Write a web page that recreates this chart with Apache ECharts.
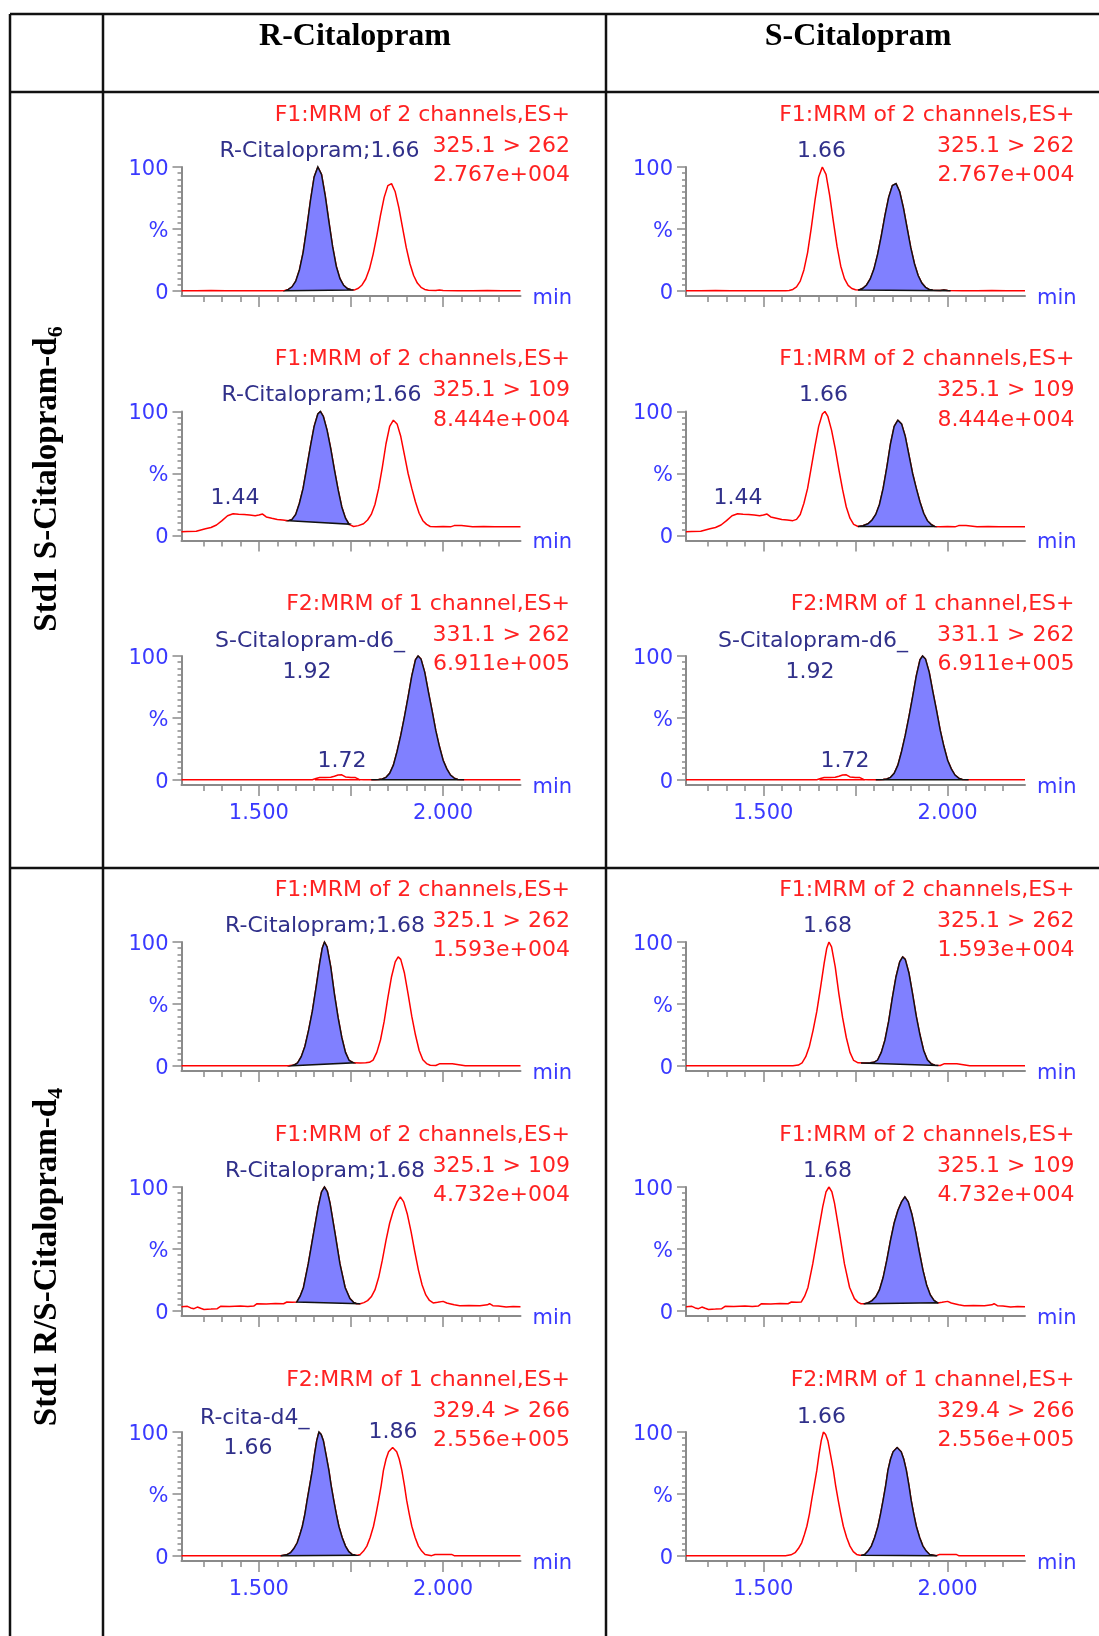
<!DOCTYPE html>
<html>
<head>
<meta charset="utf-8">
<title>R/S-Citalopram MRM chromatograms</title>
<script src="https://cdn.jsdelivr.net/npm/echarts@6/dist/echarts.min.js"></script>
<style>
html, body { margin: 0; padding: 0; background: #fff; }
#chart { width: 1099px; height: 1636px; }
</style>
</head>
<body>
<div id="chart"></div>
<script>
// retention time (min), relative intensity (%)
var trace1 = [[1.29,0.3],[1.33,0.2],[1.37,0.4],[1.41,0.2],[1.45,0.3],[1.49,0.2],[1.53,0.3],[1.56,0.3],[1.57,0.5],
  [1.58,1.3],[1.59,3.4],[1.60,8],[1.61,17],[1.62,31],[1.63,51],[1.64,73],[1.65,92],[1.66,100],[1.67,94],[1.68,77],
  [1.69,56],[1.70,36],[1.71,20],[1.72,10],[1.73,4.6],[1.74,2],[1.75,1],[1.76,0.9],[1.77,2.2],[1.78,4.9],[1.79,9.7],
  [1.80,17.7],[1.81,29.6],[1.82,44.4],[1.83,61],[1.84,75.5],[1.85,85],[1.86,86.6],[1.87,80],[1.88,67],[1.89,51],
  [1.90,35],[1.91,22],[1.92,12.5],[1.93,6.4],[1.94,3],[1.95,1.3],[1.96,0.6],[1.98,0.4],[1.99,0.8],[2.00,0.4],
  [2.04,0.3],[2.08,0.2],[2.12,0.4],[2.16,0.3],[2.21,0.3]];
var trace2 = [[1.29,3],[1.305,3.3],[1.33,3.5],[1.355,5.5],[1.37,6.5],[1.385,8.5],[1.40,12],[1.415,16],[1.43,17.5],
  [1.445,17.2],[1.46,17],[1.475,16.5],[1.49,16],[1.50,16.5],[1.51,17.3],[1.52,15],[1.535,14],[1.55,13],[1.565,12.5],
  [1.58,12],[1.59,13],[1.60,17],[1.61,26],[1.62,38],[1.63,55],[1.64,72],[1.65,88],[1.66,98],[1.667,100],[1.675,96],
  [1.685,85],[1.695,70],[1.705,53],[1.715,37],[1.725,23],[1.735,14],[1.745,9],[1.757,7.3],[1.77,8],[1.784,9.5],
  [1.795,12.5],[1.805,17],[1.815,25],[1.825,38],[1.835,55],[1.845,74],[1.855,88],[1.865,93],[1.875,90],[1.885,80],
  [1.895,65],[1.905,50],[1.915,38],[1.925,27],[1.935,18],[1.945,12],[1.955,9],[1.965,7.3],[1.98,7],[2.00,7.2],
  [2.02,7],[2.03,8],[2.05,8],[2.055,7],[2.08,7],[2.11,7.2],[2.14,7],[2.17,7],[2.21,7]];
var trace3 = [[1.29,0.2],[1.35,0.3],[1.40,0.2],[1.45,0.3],[1.50,0.2],[1.55,0.3],[1.60,0.2],[1.645,0.3],[1.655,1.2],
  [1.665,2],[1.68,2],[1.695,2.2],[1.705,3],[1.715,4],[1.725,4.2],[1.735,2.5],[1.75,2],[1.762,2],[1.772,0.5],
  [1.785,0.3],[1.80,0.2],[1.815,0.3],[1.825,0.4],[1.835,0.8],[1.845,2.2],[1.855,5.4],[1.865,12],[1.875,23],
  [1.885,36],[1.895,51],[1.905,67],[1.915,84],[1.925,97],[1.932,100],[1.94,97.5],[1.95,87],[1.96,71],[1.97,56],
  [1.98,40],[1.99,27],[2.00,16],[2.01,9],[2.02,4],[2.03,1.5],[2.04,0.5],[2.06,0.3],[2.10,0.2],[2.15,0.3],[2.21,0.2]];
var trace4 = [[1.29,0.3],[1.34,0.2],[1.39,0.3],[1.44,0.2],[1.49,0.3],[1.54,0.2],[1.58,0.3],[1.595,0.8],[1.605,2.5],
  [1.615,7.5],[1.625,16],[1.635,29],[1.645,44],[1.655,63],[1.665,83],[1.672,95],[1.678,100],[1.685,96],[1.695,80],
  [1.705,58],[1.715,39],[1.725,23],[1.735,11],[1.745,4.5],[1.757,2.6],[1.775,2.4],[1.79,2.6],[1.80,3],[1.81,4.8],
  [1.82,11],[1.83,21],[1.84,36],[1.85,55],[1.86,72],[1.87,84],[1.878,88],[1.885,86],[1.895,75],[1.905,58],
  [1.915,40],[1.925,25],[1.935,12.5],[1.945,5],[1.955,2],[1.965,0.6],[1.98,0.4],[1.99,1.8],[2.025,1.9],[2.03,0.5],
  [2.06,0.3],[2.10,0.2],[2.15,0.3],[2.21,0.3]];
var trace5 = [[1.29,3.5],[1.306,3.8],[1.315,2.5],[1.324,1.9],[1.333,3.2],[1.342,2.2],[1.351,1.3],[1.37,1.6],
  [1.387,1.9],[1.396,3.8],[1.42,3.6],[1.45,4],[1.47,3.7],[1.486,4],[1.495,5.9],[1.52,5.6],[1.545,6],[1.567,5.9],
  [1.576,7.3],[1.59,7],[1.603,7.3],[1.612,12],[1.621,19],[1.634,38],[1.648,62],[1.661,84],[1.67,96],[1.678,100],
  [1.686,96],[1.693,87],[1.707,62],[1.72,38],[1.734,19],[1.747,10],[1.757,7],[1.765,5.9],[1.775,5.9],[1.785,6.8],
  [1.795,8.4],[1.805,11.5],[1.815,17],[1.825,27],[1.835,41],[1.845,57],[1.855,71],[1.865,81],[1.875,88],
  [1.884,92],[1.893,88],[1.903,78],[1.913,64],[1.923,48],[1.933,33],[1.943,21],[1.953,13],[1.963,8.5],
  [1.973,6.5],[1.985,7],[2.00,7.8],[2.01,6.5],[2.018,5.9],[2.03,5],[2.045,4.3],[2.07,4.5],[2.10,4.2],
  [2.12,5],[2.126,5.9],[2.135,4.3],[2.15,4],[2.171,3.2],[2.19,3.6],[2.21,3.5]];
var trace6 = [[1.29,0.3],[1.34,0.2],[1.39,0.3],[1.44,0.2],[1.49,0.3],[1.54,0.2],[1.56,0.3],[1.575,1],[1.586,2.7],
  [1.595,6],[1.604,10.7],[1.611,17],[1.618,24],[1.625,34],[1.631,45],[1.638,57],[1.645,69],[1.651,82],[1.657,93],
  [1.663,100],[1.669,98],[1.675,93],[1.682,82],[1.69,69],[1.696,57],[1.703,45],[1.71,34],[1.717,24],[1.726,15],
  [1.735,8],[1.744,3.5],[1.753,1.3],[1.762,0.6],[1.768,0.6],[1.775,1.3],[1.784,4],[1.793,8],[1.802,15],[1.811,24],
  [1.818,34],[1.825,45],[1.832,57],[1.838,69],[1.845,78],[1.852,84],[1.863,87.5],[1.874,84],[1.881,78],[1.888,69],
  [1.895,57],[1.901,45],[1.908,34],[1.915,24],[1.924,15],[1.933,8],[1.942,4],[1.951,1.3],[1.969,0.3],[1.978,1.3],
  [2.023,1.3],[2.03,0.3],[2.08,0.2],[2.13,0.3],[2.21,0.2]];
// baseline drawn under the small 1.72 peak (S-Citalopram-d6 channel)
var bumpBase = [[1.652,0.3],[1.775,0.3]];

// integrated peaks: [start time, start baseline, end time, end baseline]
var shadeRCol = [[1.573,0.3,1.757,0.8],[1.581,12,1.746,9.2],[1.805,0.2,2.057,0.3],
  [1.59,0.3,1.757,2.6],[1.603,7.3,1.775,5.9],[1.559,0.3,1.762,0.6]];
var shadeSCol = [[1.757,0.8,2.008,0.3],[1.757,7.3,1.965,7.3],[1.805,0.2,2.057,0.3],
  [1.765,2.5,1.975,0.4],[1.772,5.9,1.975,6.6],[1.765,0.6,1.972,0.3]];

var channelText = ['F1:MRM of 2 channels,ES+','F1:MRM of 2 channels,ES+','F2:MRM of 1 channel,ES+',
  'F1:MRM of 2 channels,ES+','F1:MRM of 2 channels,ES+','F2:MRM of 1 channel,ES+'];
var transitionText = ['325.1 > 262','325.1 > 109','331.1 > 262','325.1 > 262','325.1 > 109','329.4 > 266'];
var intensityText = ['2.767e+004','8.444e+004','6.911e+005','1.593e+004','4.732e+004','2.556e+005'];
var peakTextR = [['R-Citalopram;1.66'],['R-Citalopram;1.66','1.44'],['S-Citalopram-d6_','1.92','1.72'],
  ['R-Citalopram;1.68'],['R-Citalopram;1.68'],['R-cita-d4_','1.66','1.86']];
var peakTextS = [['1.66'],['1.66','1.44'],['S-Citalopram-d6_','1.92','1.72'],['1.68'],['1.68'],['1.66']];
var colTitles = ['R-Citalopram','S-Citalopram'];
var rowTitles = [['Std1 S-Citalopram-d','6'],['Std1 R/S-Citalopram-d','4']];

var xTicks = [1.35,1.40,1.45,1.50,1.55,1.60,1.65,1.70,1.75,1.80,1.85,1.90,1.95,2.00,2.05,2.10,2.15];
var xMajorTicks = [1.50,1.75,2.00];
var xLabelValues = [1.50,2.00];
var yTicks = [0,5,10,15,20,25,30,35,40,45,50,55,60,65,70,75,80,85,90,95,100];
var yMajorTicks = [0,50,100];

var traces = [trace1, trace2, trace3, trace4, trace5, trace6];

// layout
var rowTop = [167, 411.5, 656, 942, 1187, 1432];
var colLeft = [181.5, 686];
var peakPosR = [[[138,-16,'center']],[[140,-16,'center'],[53.5,87,'center']],
  [[33.5,-15,'left'],[125.5,16,'center'],[160.5,105,'center']],[[143.5,-16,'center']],[[143.5,-16,'center']],
  [[18.5,-14,'left'],[66.5,16,'center'],[211.5,0,'center']]];
var peakPosS = [[[135.5,-16,'center']],[[137.5,-16,'center'],[52,87,'center']],
  [[32,-15,'left'],[124,16,'center'],[159,105,'center']],[[141.5,-16,'center']],[[141.5,-16,'center']],
  [[135.5,-15,'center']]];

var SANS = '"DejaVu Sans", Verdana, sans-serif';
var SERIF = '"Liberation Serif", "Times New Roman", serif';
var RED = '#ff2222', BLUE = '#3a3aff', NAVY = '#30308a', GREY = '#8a8a8a';

var chart = echarts.init(document.getElementById('chart'), null, { renderer: 'canvas' });
var grids = [], xAxes = [], yAxes = [], series = [], graphics = [];

function shadeSeries(p, trace, shade) {
  return {
    type: 'custom', xAxisIndex: 2 * p, yAxisIndex: 2 * p, z: 3, silent: true,
    data: [shade],
    renderItem: function (params, api) {
      var t0 = api.value(0), b0 = api.value(1), t1 = api.value(2), b1 = api.value(3);
      var pts = [api.coord([t0, b0])];
      trace.forEach(function (d) {
        if (d[0] > t0 && d[0] < t1) pts.push(api.coord(d));
      });
      pts.push(api.coord([t1, b1]));
      return {
        type: 'polygon', shape: { points: pts },
        style: { fill: '#8080ff', stroke: '#111', lineWidth: 1.5 }
      };
    }
  };
}

function addText(x, y, text, color, align) {
  graphics.push({
    type: 'text', x: x, y: y, silent: true,
    style: { text: text, fill: color, fontSize: 22, fontFamily: SANS, align: align, verticalAlign: 'middle' }
  });
}

for (var r = 0; r < 6; r++) {
  for (var c = 0; c < 2; c++) {
    var p = r * 2 + c;
    var gx = colLeft[c], gy = rowTop[r];
    var bottomRow = (r === 2 || r === 5);
    grids.push({ left: gx, top: gy, width: 339, height: 129 });
    xAxes.push({
      type: 'value', gridIndex: p, min: 1.29, max: 2.21, position: 'bottom',
      name: 'min', nameLocation: 'end', nameGap: 12,
      nameTextStyle: { color: BLUE, fontSize: 21, fontFamily: SANS, verticalAlign: 'top', lineHeight: 5 },
      axisLine: { onZero: false, lineStyle: { color: GREY, width: 2 } },
      axisTick: { customValues: xTicks, length: 6, lineStyle: { color: GREY, width: 1.5 } },
      axisLabel: {
        show: bottomRow, customValues: xLabelValues, margin: 18, color: BLUE, fontSize: 21, fontFamily: SANS,
        formatter: function (v) { return v.toFixed(3); }
      },
      splitLine: { show: false }
    });
    xAxes.push({
      type: 'value', gridIndex: p, min: 1.29, max: 2.21, position: 'bottom',
      axisLine: { show: false, onZero: false },
      axisTick: { customValues: xMajorTicks, length: 11, lineStyle: { color: GREY, width: 1.5 } },
      axisLabel: { show: false }, splitLine: { show: false }
    });
    yAxes.push({
      type: 'value', gridIndex: p, min: -4, max: 100, position: 'left',
      axisLine: { onZero: false, lineStyle: { color: GREY, width: 2 } },
      axisTick: { customValues: yTicks, length: 4, lineStyle: { color: GREY, width: 1.5 } },
      axisLabel: {
        customValues: yMajorTicks, margin: 13, color: BLUE, fontSize: 21, fontFamily: SANS,
        verticalAlign: 'top', lineHeight: 5,
        formatter: function (v) { return v === 50 ? '%' : String(v); }
      },
      splitLine: { show: false }
    });
    yAxes.push({
      type: 'value', gridIndex: p, min: -4, max: 100, position: 'left',
      axisLine: { show: false, onZero: false },
      axisTick: { customValues: yMajorTicks, length: 9, lineStyle: { color: GREY, width: 1.5 } },
      axisLabel: { show: false }, splitLine: { show: false }
    });

    series.push({
      type: 'line', xAxisIndex: 2 * p, yAxisIndex: 2 * p, data: traces[r], symbol: 'none',
      lineStyle: { color: '#ff0000', width: 1.5 }, z: 2, silent: true
    });
    if (r === 2) {
      series.push({
        type: 'line', xAxisIndex: 2 * p, yAxisIndex: 2 * p, data: bumpBase, symbol: 'none',
        lineStyle: { color: '#ff0000', width: 1.5 }, z: 2, silent: true
      });
    }
    series.push(shadeSeries(p, traces[r], c === 0 ? shadeRCol[r] : shadeSCol[r]));

    // channel description, right aligned
    var tx = gx + 388.5;
    addText(tx, gy - 52, channelText[r], RED, 'right');
    addText(tx, gy - 21, transitionText[r], RED, 'right');
    addText(tx, gy + 8.5, intensityText[r], RED, 'right');

    var labels = c === 0 ? peakTextR[r] : peakTextS[r];
    var pos = c === 0 ? peakPosR[r] : peakPosS[r];
    for (var k = 0; k < labels.length; k++) {
      addText(gx + pos[k][0], gy + pos[k][1], labels[k], NAVY, pos[k][2]);
    }
  }
}

// table rules
function rule(x1, y1, x2, y2) {
  graphics.push({
    type: 'line', silent: true, shape: { x1: x1, y1: y1, x2: x2, y2: y2 },
    style: { stroke: '#111', lineWidth: 2.5 }
  });
}
rule(10, 14, 1099, 14);
rule(10, 92, 1099, 92);
rule(10, 868, 1099, 868);
rule(10, 14, 10, 1636);
rule(103, 14, 103, 1636);
rule(606, 14, 606, 1636);

graphics.push({
  type: 'text', x: 355, y: 37, silent: true,
  style: { text: colTitles[0], fill: '#000', fontSize: 32, fontWeight: 'bold', fontFamily: SERIF, align: 'center', verticalAlign: 'middle' }
});
graphics.push({
  type: 'text', x: 858, y: 37, silent: true,
  style: { text: colTitles[1], fill: '#000', fontSize: 32, fontWeight: 'bold', fontFamily: SERIF, align: 'center', verticalAlign: 'middle' }
});
var rowCenters = [479, 1257];
rowTitles.forEach(function (t, i) {
  graphics.push({
    type: 'text', x: 47, y: rowCenters[i], rotation: Math.PI / 2, silent: true,
    style: {
      text: '{m|' + t[0] + '}{s|' + t[1] + '}', align: 'center', verticalAlign: 'middle',
      rich: {
        m: { fontSize: 33, fontWeight: 'bold', fontFamily: SERIF, fill: '#000', lineHeight: 40 },
        s: { fontSize: 22, fontWeight: 'bold', fontFamily: SERIF, fill: '#000', lineHeight: 26, verticalAlign: 'bottom' }
      }
    }
  });
});

chart.setOption({
  animation: false,
  backgroundColor: '#fff',
  grid: grids,
  xAxis: xAxes,
  yAxis: yAxes,
  series: series,
  graphic: graphics
});
</script>
</body>
</html>
